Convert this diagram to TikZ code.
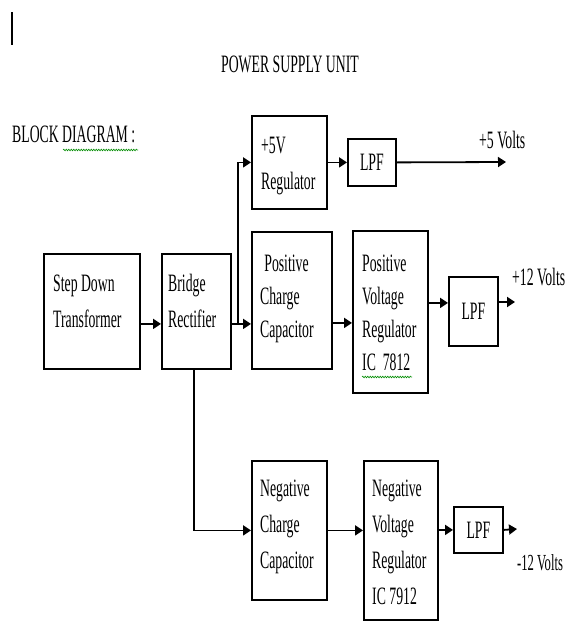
\documentclass[tikz,border=0pt]{standalone}
\usepackage{fontspec}
\setmainfont{Liberation Serif}
\newfontfamily\blockfont[FakeStretch=0.55]{Liberation Serif}
\usetikzlibrary{arrows.meta,decorations.pathmorphing}

\tikzset{
  blk/.style={draw=black, line width=1.8pt, inner sep=0pt, anchor=north west},
  blktext/.style={anchor=base west, align=left, inner sep=0pt,
    font=\blockfont\fontsize{25}{36}\selectfont},
  lbl/.style={inner sep=0pt, font=\blockfont\fontsize{25}{30}\selectfont},
  arr/.style={line width=1.8pt, -{Triangle[length=8pt,width=10pt]}},
  wavy/.style={draw=green!55!black, line width=0.6pt, decorate,
    decoration={snake, amplitude=0.8pt, segment length=2.5pt}}
}

\begin{document}
\begin{tikzpicture}[x=1pt, y=-1pt]
      \useasboundingbox[fill=white] (0,0) rectangle (568,621);

      % Cursor mark and headings
      \draw[line width=1.8pt] (12,12) coordinate (curtop) -- (12,45) coordinate (curbot);
      \node[lbl] (title) at (290,64) {POWER SUPPLY UNIT};
      \node[lbl, anchor=west] (heading) at (12,134) {BLOCK DIAGRAM :};
      \draw[wavy] (63,150) -- (138,150);

      % +5 V branch (text nodes sit on the baseline of their last line)
      \node[blk, minimum width=75pt, minimum height=93pt] (reg5) at (251,115) {};
      \node[blktext] (reg5txt) at ([xshift=10pt, yshift=-74pt]reg5.north west) {+5V\\Regulator};
      \node[blk, minimum width=48pt, minimum height=47pt, font=\blockfont\fontsize{25}{30}\selectfont]
        (lpfa) at (347,138) {LPF};
      \coordinate (out5) at (506,162);
      \node[lbl, anchor=west] (volt5) at (479,140) {+5 Volts};

      % Transformer and rectifier
      \node[blk, minimum width=96pt, minimum height=115pt] (sdt) at (43,253) {};
      \node[blktext] (sdttxt) at ([xshift=10pt, yshift=-74pt]sdt.north west) {Step Down\\Transformer};
      \node[blk, minimum width=69pt, minimum height=115pt] (brg) at (161,253) {};
      \node[blktext] (brgtxt) at ([xshift=7pt, yshift=-74pt]brg.north west) {Bridge\\Rectifier};

      % +12 V branch
      \node[blk, minimum width=80pt, minimum height=137pt] (pcc) at (251,231) {};
      \node[blktext, font=\blockfont\fontsize{25}{33}\selectfont]
        (pcctxt) at ([xshift=9pt, yshift=-106pt]pcc.north west) {\,Positive\\Charge\\Capacitor};
      \node[blk, minimum width=75pt, minimum height=162pt] (pvr) at (352,230) {};
      \node[blktext, font=\blockfont\fontsize{25}{33}\selectfont]
        (pvrtxt) at ([xshift=10pt, yshift=-140pt]pvr.north west) {Positive\\Voltage\\Regulator\\IC\ \ 7812};
      \draw[wavy] (362,377) -- (412,377);
      \node[blk, minimum width=49pt, minimum height=69pt, font=\blockfont\fontsize{25}{30}\selectfont]
        (lpfb) at (448,276) {LPF};
      \coordinate (out12) at (515,302);
      \node[lbl, anchor=west] (volt12) at (512,277) {+12 Volts};

      % -12 V branch
      \node[blk, minimum width=75pt, minimum height=139pt] (ncc) at (251,460) {};
      \node[blktext] (ncctxt) at ([xshift=9pt, yshift=-108pt]ncc.north west) {Negative\\Charge\\Capacitor};
      \node[blk, minimum width=74pt, minimum height=159pt] (nvr) at (363,460) {};
      \node[blktext] (nvrtxt) at ([xshift=9pt, yshift=-144pt]nvr.north west) {Negative\\Voltage\\Regulator\\IC 7912};
      \node[blk, minimum width=49pt, minimum height=46pt, font=\blockfont\fontsize{25}{30}\selectfont]
        (lpfc) at (453,506) {LPF};
      \coordinate (outneg) at (517,529);
      \node[lbl, anchor=west, font=\blockfont\fontsize{23}{28}\selectfont] (voltneg) at (517,563) {-12 Volts};

      % Connectors
      \coordinate (tap) at ([xshift=6pt, yshift=-12.5pt]brg.east);
      \draw[arr] (sdt.east |- tap) -- (brg.west |- tap);
      \draw[arr] (brg.east |- tap) -- (pcc.west |- tap);
      \draw[arr] (tap) |- (reg5.west);
      \draw[arr] (reg5.east) -- (lpfa.west);
      \draw[arr] (lpfa.east) -- (out5);
      \draw[arr] ([yshift=-22.5pt]pcc.east) coordinate (pccout) -- (pvr.west |- pccout);
      \coordinate (lpfbin) at ([yshift=8.5pt]lpfb.west);
      \draw[arr] (pvr.east |- lpfbin) -- (lpfbin);
      \draw[arr] (lpfb.east |- out12) -- (out12);
      \draw[arr] ([xshift=-2.5pt]brg.south) |- (ncc.west);
      \draw[arr] (ncc.east) -- (nvr.west |- ncc.east);
      \draw[arr] (nvr.east |- lpfc.west) -- (lpfc.west);
      \draw[arr] (lpfc.east) -- (outneg);

    \end{tikzpicture}
\end{document}
